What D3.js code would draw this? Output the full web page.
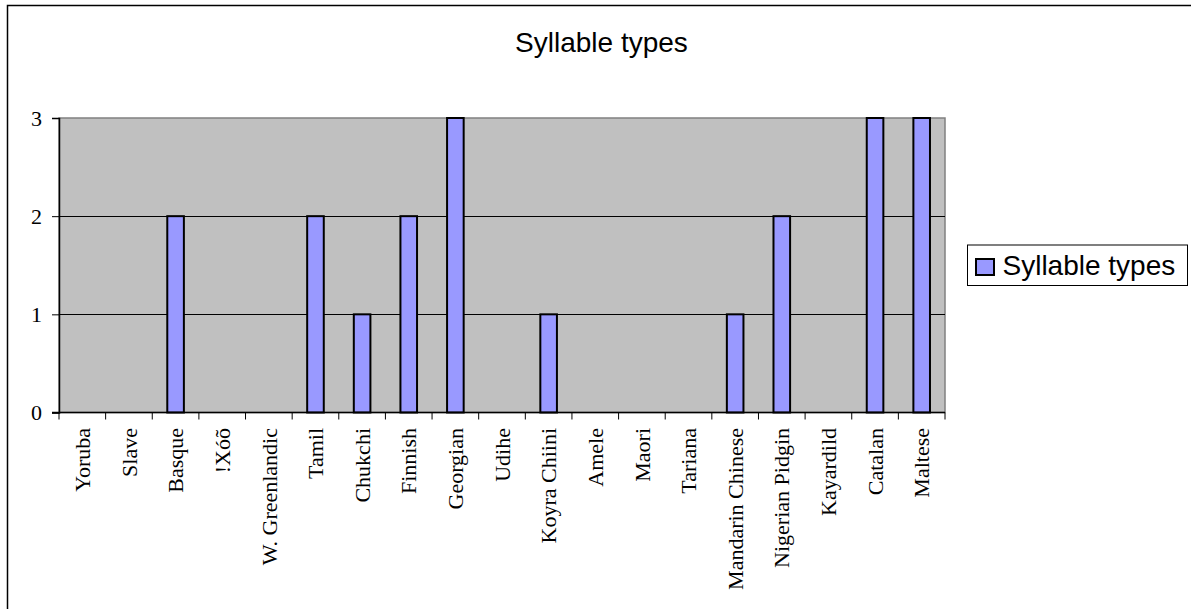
<!DOCTYPE html>
<html>
<head>
<meta charset="utf-8">
<script src="https://cdn.jsdelivr.net/npm/d3@7"></script>
<style>
  html, body { margin: 0; padding: 0; background: #fff; }
  svg { display: block; }
</style>
</head>
<body>
<svg id="chart" width="1191" height="609"></svg>
<script>
// Languages and the number of syllable types recorded for each
const languages = ["Yoruba", "Slave", "Basque", "!Xóõ", "W. Greenlandic", "Tamil", "Chukchi",
  "Finnish", "Georgian", "Udihe", "Koyra Chiini", "Amele", "Maori", "Tariana",
  "Mandarin Chinese", "Nigerian Pidgin", "Kayardild", "Catalan", "Maltese"];
const syllableTypes = [0, 0, 2, 0, 0, 2, 1, 2, 3, 0, 1, 0, 0, 0, 1, 2, 0, 3, 3];
const yTicks = [0, 1, 2, 3];
const seriesName = "Syllable types";
const chartTitle = "Syllable types";

const svg = d3.select("#chart");
const serif = "'Liberation Serif', 'Times New Roman', serif";
const sans = "'Liberation Sans', Arial, sans-serif";

const plot = { left: 59, right: 945, top: 118, bottom: 412.5 };

const x = d3.scaleBand().domain(languages).range([plot.left, plot.right]).padding(0);
const y = d3.scaleLinear().domain([0, 3]).range([plot.bottom, plot.top]);

// Outer chart frame
svg.append("rect")
  .attr("x", 7.5).attr("y", 5.5)
  .attr("width", 1200).attr("height", 620)
  .attr("fill", "#fff").attr("stroke", "#000").attr("stroke-width", 1.5);

// Title
svg.append("text")
  .attr("x", 601.5).attr("y", 51.5)
  .attr("text-anchor", "middle")
  .attr("font-family", sans).attr("font-size", 28)
  .attr("fill", "#000")
  .text(chartTitle);

// Plot area background
svg.append("rect")
  .attr("x", plot.left).attr("y", plot.top)
  .attr("width", plot.right - plot.left).attr("height", plot.bottom - plot.top)
  .attr("fill", "#c0c0c0").attr("stroke", "#808080").attr("stroke-width", 1.5);

// Horizontal gridlines
svg.append("g")
  .selectAll("line")
  .data(yTicks.filter(d => d > 0 && d < 3))
  .join("line")
  .attr("x1", plot.left).attr("x2", plot.right)
  .attr("y1", d => Math.round(y(d)) + 0.5).attr("y2", d => Math.round(y(d)) + 0.5)
  .attr("stroke", "#000").attr("stroke-width", 1);

// Bars
svg.append("g")
  .selectAll("rect")
  .data(languages.map((l, i) => ({ lang: l, value: syllableTypes[i] })).filter(d => d.value > 0))
  .join("rect")
  .attr("x", d => x(d.lang) + x.bandwidth() / 2 - 8.3)
  .attr("width", 16.6)
  .attr("y", d => y(d.value))
  .attr("height", d => y(0) - y(d.value))
  .attr("fill", "#9999ff")
  .attr("stroke", "#000").attr("stroke-width", 2);

// Y axis
const yAxis = d3.axisLeft(y).tickValues(yTicks).tickFormat(d3.format("d"))
  .tickSize(7).tickPadding(10);
const gy = svg.append("g").attr("transform", `translate(${plot.left},0)`).call(yAxis);
gy.select(".domain").attr("stroke", "#000").attr("stroke-width", 1.5);
gy.selectAll(".tick line").attr("stroke", "#000").attr("stroke-width", 1);
gy.selectAll(".tick text")
  .attr("font-family", serif).attr("font-size", 22).attr("fill", "#000");

// X axis line and category boundary ticks
const boundaries = languages.map(l => x(l)).concat([plot.right]);
svg.append("line")
  .attr("x1", plot.left - 7).attr("x2", plot.right)
  .attr("y1", plot.bottom).attr("y2", plot.bottom)
  .attr("stroke", "#000").attr("stroke-width", 1.5);
svg.append("g")
  .selectAll("line")
  .data(boundaries)
  .join("line")
  .attr("x1", d => d).attr("x2", d => d)
  .attr("y1", plot.bottom).attr("y2", plot.bottom + 7)
  .attr("stroke", "#000").attr("stroke-width", 1);

// Rotated category labels
svg.append("g")
  .selectAll("text")
  .data(languages)
  .join("text")
  .attr("transform", d => `translate(${x(d) + x.bandwidth() / 2},428) rotate(-90)`)
  .attr("text-anchor", "end")
  .attr("dy", "0.35em")
  .attr("font-family", serif).attr("font-size", 22)
  .attr("fill", "#000")
  .text(d => d);

// Legend
const legend = svg.append("g");
legend.append("rect")
  .attr("x", 967.5).attr("y", 245)
  .attr("width", 220).attr("height", 40.5)
  .attr("fill", "#fff").attr("stroke", "#000").attr("stroke-width", 1);
legend.append("rect")
  .attr("x", 976).attr("y", 259)
  .attr("width", 18).attr("height", 16)
  .attr("fill", "#9999ff").attr("stroke", "#000").attr("stroke-width", 2);
legend.append("text")
  .attr("x", 1002.5).attr("y", 275)
  .attr("font-family", sans).attr("font-size", 28)
  .attr("fill", "#000")
  .text(seriesName);
</script>
</body>
</html>
